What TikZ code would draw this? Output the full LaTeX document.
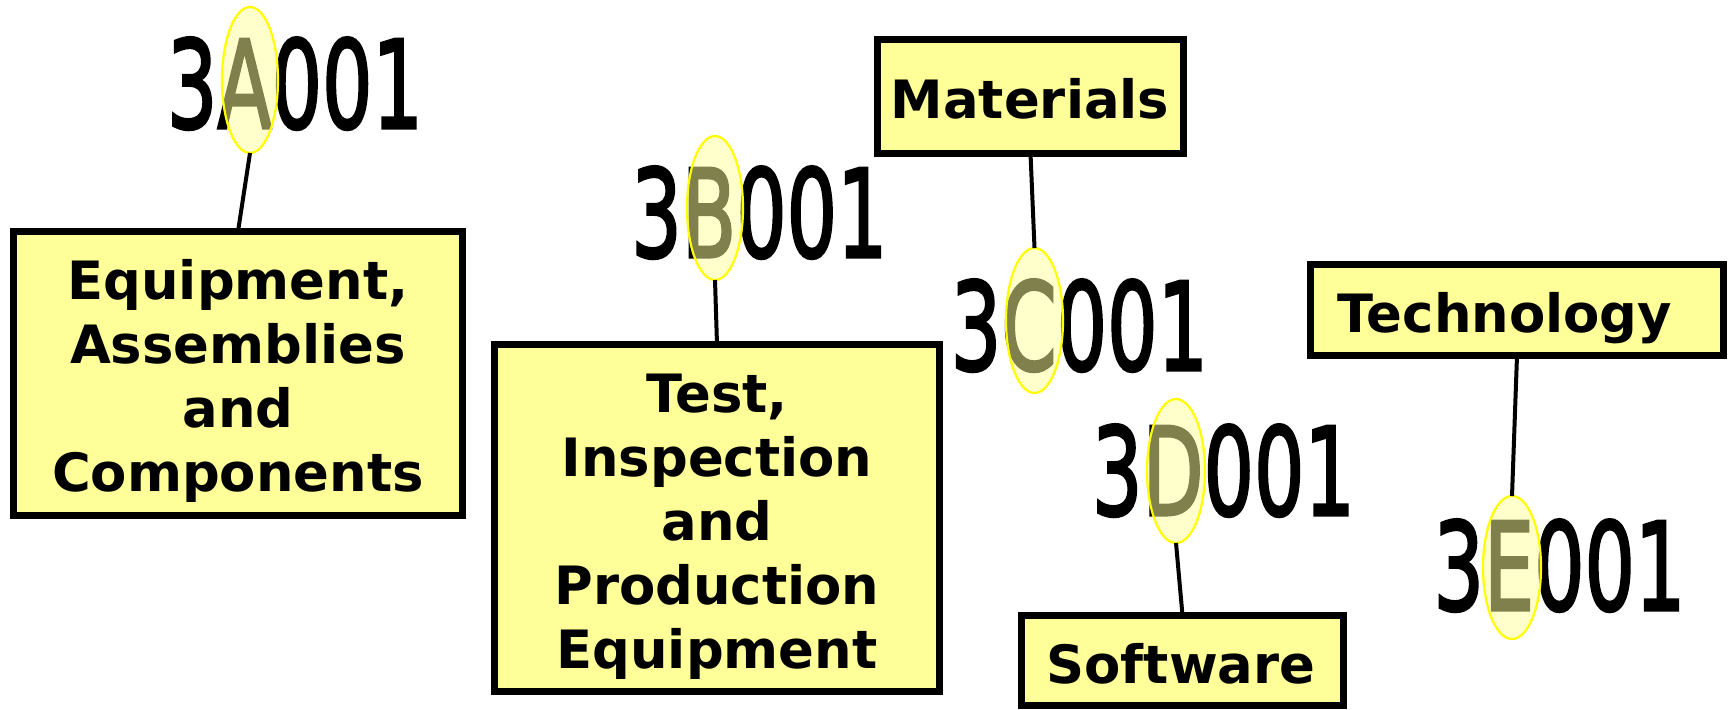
\documentclass[tikz,border=0pt]{standalone}
\usepackage{fontspec}
\usepackage{graphicx}
\setmainfont{DejaVu Sans}
\newfontfamily\codefont[FakeBold=2.5]{DejaVu Sans}
\usetikzlibrary{shapes.geometric}
\definecolor{boxfill}{HTML}{FFFF99}
\definecolor{hiline}{HTML}{FFFF00}
\tikzset{
  catbox/.style={draw=black, fill=boxfill, line width=3.5pt, rectangle, inner sep=0pt, outer sep=0pt},
  cattext/.style={align=center, inner sep=0pt, font=\bfseries\fontsize{26.4}{32}\selectfont},
  code/.style={inner sep=0pt, anchor=base, font=\codefont\fontsize{61}{61}\selectfont},
  hilite/.style={ellipse, draw=hiline, fill=boxfill, fill opacity=0.5, line width=1.1pt, inner sep=0pt, outer sep=0pt},
  conn/.style={draw=black, line width=2pt}
}
\newcommand{\codetext}[1]{\scalebox{0.65}[1]{#1}}
\begin{document}
\begin{tikzpicture}[x=0.5pt, y=-0.5pt]
\fill[white] (0,0) rectangle (1732,709);
\useasboundingbox (0,0) rectangle (1732,709);

% boxes
\node[catbox, minimum width=224.5pt, minimum height=142pt] (bA) at (238,373.5) {};
\node[catbox, minimum width=222.5pt, minimum height=173.5pt] (bB) at (717,518) {};
\node[catbox, minimum width=153pt, minimum height=57pt] (bC) at (1030.5,96.5) {};
\node[catbox, minimum width=161pt, minimum height=45pt] (bD) at (1182.5,660.5) {};
\node[catbox, minimum width=206.5pt, minimum height=45.5pt] (bE) at (1517,310) {};

% box texts
\node[cattext] (tA) at (238,382.2) {\strut Equipment,\\\strut Assemblies\\\strut and\\\strut Components};
\node[cattext] (tB) at (717,527.2) {\strut Test,\\\strut Inspection\\\strut and\\\strut Production\\\strut Equipment};
\node[cattext] (tC) at (1030,105.2) {\strut Materials};
\node[cattext] (tD) at (1181,670.2) {\strut Software};
\node[cattext] (tE) at (1505,319.2) {\strut Technology};

% codes
\node[code] (cA) at (295,128) {\codetext{3A001}};
\node[code] (cB) at (759.5,257) {\codetext{3B001}};
\node[code] (cC) at (1079.5,370) {\codetext{3C001}};
\node[code] (cD) at (1223.5,515) {\codetext{3D001}};
\node[code] (cE) at (1559.5,610) {\codetext{3E001}};

% highlight ellipses
\node[hilite, minimum width=28pt, minimum height=73pt] (eA) at (250,80) {};
\node[hilite, minimum width=28pt, minimum height=72pt] (eB) at (715,208) {};
\node[hilite, minimum width=28.5pt, minimum height=72.5pt] (eC) at (1034.5,320.5) {};
\node[hilite, minimum width=29pt, minimum height=72pt] (eD) at (1176,471) {};
\node[hilite, minimum width=29pt, minimum height=71.5pt] (eE) at (1512,567.5) {};

% connectors
\draw[conn] (eA.south) -- (bA.north);
\draw[conn] (eB.south) -- (bB.north);
\draw[conn] (bC.south) -- (eC.north);
\draw[conn] (eD.south) -- (bD.north);
\draw[conn] (bE.south) -- (eE.north);
\end{tikzpicture}
\end{document}
